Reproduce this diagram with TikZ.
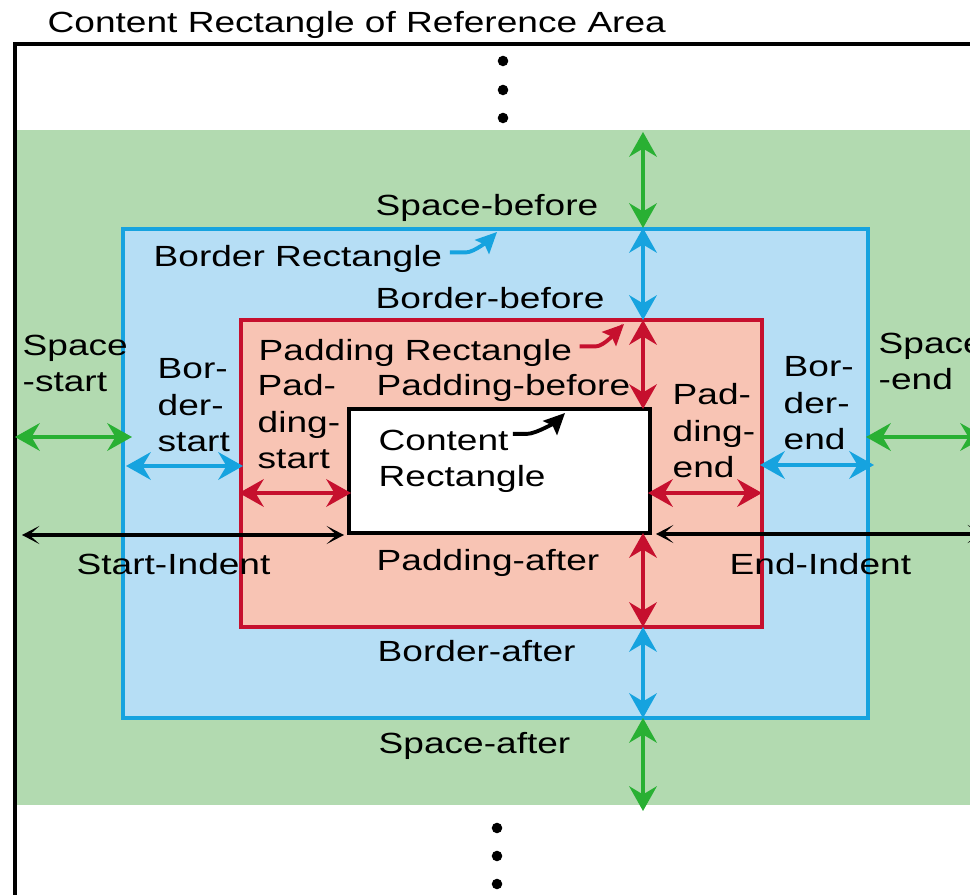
\documentclass[tikz,border=0pt]{standalone}
\usepackage{fontspec}
\setmainfont{Liberation Sans}[FakeStretch=1.27]
\usetikzlibrary{arrows.meta}

\definecolor{spacefill}{RGB}{178,218,176}
\definecolor{spaceline}{RGB}{41,176,51}
\definecolor{borderfill}{RGB}{182,222,245}
\definecolor{borderline}{RGB}{22,163,223}
\definecolor{paddingfill}{RGB}{248,196,180}
\definecolor{paddingline}{RGB}{198,16,46}

\tikzset{
  lbl/.style={font=\fontsize{8.3}{10.5}\selectfont, inner sep=0, anchor=base west},
  dim/.style={line width=1.4pt, >={Stealth[length=7pt,width=7.8pt,inset=2.3pt]}, <->},
  indent/.style={line width=1pt, >={Stealth[length=5pt,width=5.2pt,inset=2.9pt]}, <->},
  pointer/.style={line width=1.1pt, -{Stealth[length=6pt,width=5.6pt,inset=1pt]}},
}

\begin{document}
\begin{tikzpicture}[x=0.01cm,y=-0.01cm]
\useasboundingbox (0,0) rectangle (970,895);
\clip (0,0) rectangle (970,895);

% areas
\fill[spacefill] (15,130) rectangle (980,805);
\filldraw[fill=borderfill, draw=borderline, line width=1.2pt] (123,229) rectangle (868,718);
\filldraw[fill=paddingfill, draw=paddingline, line width=1.2pt] (241,320) rectangle (762,627);
\filldraw[fill=white, draw=black, line width=1.2pt] (349,409) rectangle (650,533);
\draw[line width=1.3pt] (15,900) -- (15,44) -- (980,44);

% dots
\foreach \y in {61,90,118} \fill (503,\y) circle (1.5pt);
\foreach \y in {828,856,884} \fill (497,\y) circle (1.5pt);

% arrow ends
\coordinate (sb1) at (643,132);  \coordinate (sb2) at (643,228);
\coordinate (bb2) at (643,320);  \coordinate (pb2) at (643,409);
\coordinate (pa1) at (643,533);  \coordinate (pa2) at (643,627);
\coordinate (ba2) at (643,718);  \coordinate (sa2) at (643,811);
\coordinate (ss1) at (15,437);   \coordinate (ss2) at (132,437);
\coordinate (bs1) at (126,466);  \coordinate (bs2) at (243,466);
\coordinate (ps1) at (239,493);  \coordinate (ps2) at (351,493);
\coordinate (pe1) at (648,493);  \coordinate (pe2) at (762,493);
\coordinate (be1) at (760,465);  \coordinate (be2) at (874,465);
\coordinate (se1) at (866,437);  \coordinate (se2) at (985,437);
\coordinate (si1) at (22,535);   \coordinate (si2) at (344,535);
\coordinate (ei1) at (656,534);  \coordinate (ei2) at (985,534);

\draw[dim, spaceline] (sb1) -- (sb2);
\draw[dim, borderline] (sb2) -- (bb2);
\draw[dim, paddingline] (bb2) -- (pb2);
\draw[dim, paddingline] (pa1) -- (pa2);
\draw[dim, borderline] (pa2) -- (ba2);
\draw[dim, spaceline] (ba2) -- (sa2);
\draw[dim, spaceline] (ss1) -- (ss2);
\draw[dim, borderline] (bs1) -- (bs2);
\draw[dim, paddingline] (ps1) -- (ps2);
\draw[dim, paddingline] (pe1) -- (pe2);
\draw[dim, borderline] (be1) -- (be2);
\draw[dim, spaceline] (se1) -- (se2);
\draw[indent] (si1) -- (si2);
\draw[indent] (ei1) -- (ei2);

% labels
\node[lbl] (title) at (47,33) {Content Rectangle of Reference Area};
\node[lbl] (sbefore) at (375,216) {Space-before};
\node[lbl] (brect) at (153,267) {Border Rectangle};
\node[lbl] (bbefore) at (375,309) {Border-before};
\node[lbl] (prect) at (258,361) {Padding Rectangle};
\node[lbl] (pbefore) at (376,396) {Padding-before};
\node[lbl] (content) at (378,451) {Content};
\node[lbl] (crect) at (378,487) {Rectangle};
\node[lbl] (pafter) at (376,571) {Padding-after};
\node[lbl] (bafter) at (377,662) {Border-after};
\node[lbl] (safter) at (378,754) {Space-after};
\node[lbl, align=left] (sstart) at (22,392) {Space\\-start};
\node[lbl, align=left] (bstart) at (157,452) {Bor-\\der-\\start};
\node[lbl, align=left] (pstart) at (257,469) {Pad-\\ding-\\start};
\node[lbl, align=left] (pend) at (672,478) {Pad-\\ding-\\end};
\node[lbl, align=left] (bend) at (783,450) {Bor-\\der-\\end};
\node[lbl, align=left] (send) at (878,390) {Space\\-end};
\node[lbl] (sindent) at (76,575) {Start-Indent};
\node[lbl] (eindent) at (729,575) {End-Indent};

% pointers to the rectangles
\coordinate (btip) at (497,232);
\coordinate (ptip) at (624,324);
\coordinate (ctip) at (565,413);
\draw[pointer, borderline] ([xshift=2pt,yshift=2pt]brect.east) -- ++(16,0) to[out=0,in=225,looseness=0.6] (btip);
\draw[pointer, paddingline] ([xshift=2pt,yshift=2pt]prect.east) -- ++(16,0) to[out=0,in=225,looseness=0.6] (ptip);
\draw[pointer, black] ([xshift=1pt,yshift=2pt]content.east) -- ++(14,0) to[out=0,in=225,looseness=0.6] (ctip);
\end{tikzpicture}
\end{document}
